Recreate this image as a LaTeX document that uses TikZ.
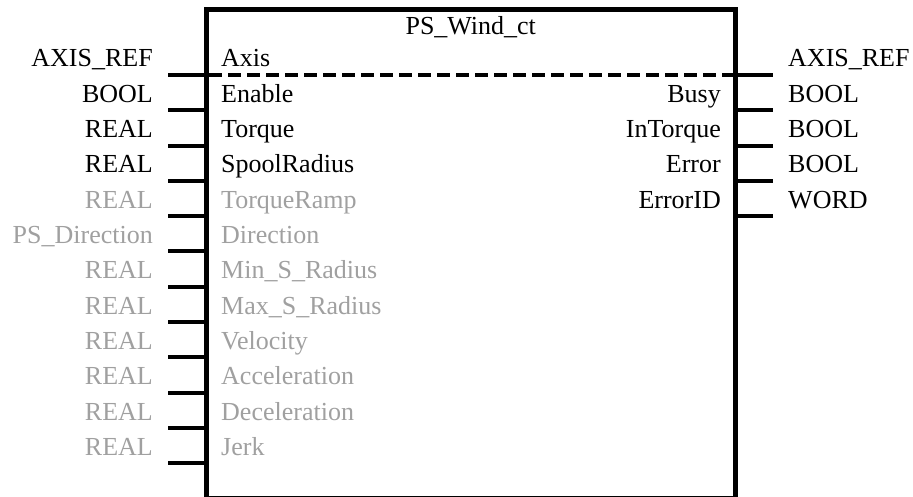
\documentclass[tikz,border=0pt]{standalone}
\usepackage{fontspec}
\setmainfont{Liberation Serif}
\definecolor{dimgrey}{HTML}{A0A0A0}
\tikzset{
  lbl/.style={inner sep=0pt, font=\fontsize{26}{30}\selectfont},
  typeL/.style={lbl, anchor=base east},
  typeR/.style={lbl, anchor=base west},
  inL/.style={lbl, anchor=base west},
  inR/.style={lbl, anchor=base east},
  pin/.style={line width=4pt},
  frame/.style={line width=5pt},
  sep/.style={line width=4pt, dash pattern=on 13pt off 6pt},
  off/.style={text=dimgrey}
}
\begin{document}
\begin{tikzpicture}[x=1pt,y=-1pt]
\useasboundingbox (0,0) rectangle (913,497);
% frame
\coordinate (fNW) at (206.5,9.5);
\coordinate (fSE) at (735,498);
\draw[frame] (fNW) rectangle (fSE);
\node[lbl, anchor=base] (title) at (470.75,35) {PS\_Wind\_ct};
% left side
\foreach \k/\typ/\nm/\st in {0/AXIS\_REF/Axis/,1/BOOL/Enable/,2/REAL/Torque/,3/REAL/SpoolRadius/,4/REAL/TorqueRamp/off,5/PS\_Direction/Direction/off,6/REAL/Min\_S\_Radius/off,7/REAL/Max\_S\_Radius/off,8/REAL/Velocity/off,9/REAL/Acceleration/off,10/REAL/Deceleration/off,11/REAL/Jerk/off}{
  \pgfmathsetmacro{\py}{75+35.3*\k}
  \coordinate (lo\k) at (168,\py);
  \coordinate (li\k) at (206.5,\py);
  \draw[pin] (lo\k) -- (li\k);
  \node[typeL,\st] (lt\k) at (153,\py-8) {\typ};
  \node[inL,\st] (ln\k) at (221,\py-8) {\nm};
}
% separator
\coordinate (sepL) at (209,75);
\coordinate (sepR) at (733,75);
\draw[sep] (sepL) -- (sepR);
% right side
\foreach \k/\typ/\nm in {0/AXIS\_REF/,1/BOOL/Busy,2/BOOL/InTorque,3/BOOL/Error,4/WORD/ErrorID}{
  \pgfmathsetmacro{\py}{75+35.3*\k}
  \coordinate (ri\k) at (735,\py);
  \coordinate (ro\k) at (773,\py);
  \draw[pin] (ri\k) -- (ro\k);
  \node[typeR] (rt\k) at (788,\py-8) {\typ};
  \node[inR] (rn\k) at (721,\py-8) {\nm};
}
\end{tikzpicture}
\end{document}
